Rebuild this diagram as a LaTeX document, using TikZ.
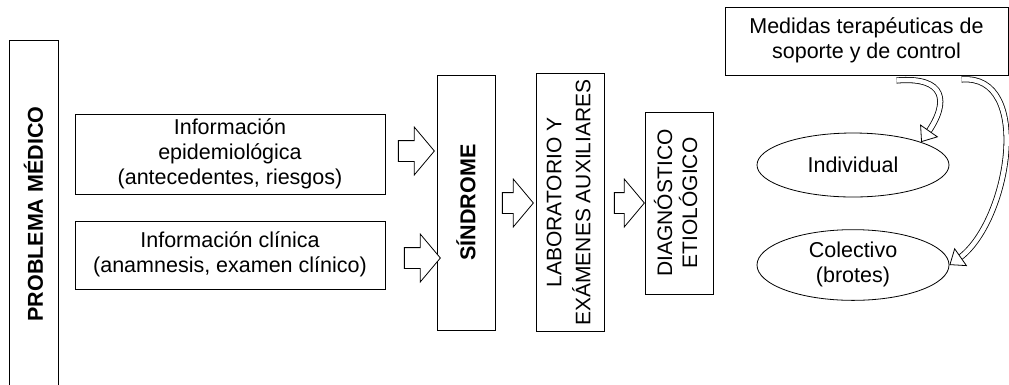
\documentclass[tikz,border=0pt]{standalone}
\usepackage{fontspec}
\setmainfont{Liberation Sans}
\usetikzlibrary{shapes.geometric,shapes.arrows,arrows.meta}

\tikzset{
	txt/.style={font=\fontsize{21.5}{25}\selectfont, inner sep=0pt, align=center},
	casilla/.style={txt, draw, line width=1pt},
	flecha/.style={single arrow, draw, line width=0.8pt, inner xsep=0pt, inner ysep=10pt,
		single arrow head extend=13.5pt, single arrow tip angle=100, fill=white},
	hueca/.style={double=white, double distance=4.5pt, line width=0.8pt, shorten >=11pt},
	punta/.style={white, line width=0.5pt,
		-{Triangle[open, color=black, fill=white, line width=0.8pt, length=14pt, width=22pt]}}
}

\begin{document}
\begin{tikzpicture}[x=1pt,y=1pt]
		\useasboundingbox (0,0) rectangle (1009,-384);
		
		\node[casilla, rotate=90, minimum width=348pt, minimum height=49pt] (prob) at (33.5,-214){\textbf{PROBLEMA MÉDICO}};
		
		\node[casilla, minimum width=310pt, minimum height=80pt] (epi) at (230,-154){\begin{tabular}{c}Información\\epidemiológica\\(antecedentes, riesgos)\end{tabular}};
		\node[casilla, minimum width=310pt, minimum height=68pt] (clin) at (230,-255){\begin{tabular}{c}Información clínica\\(anamnesis, examen clínico)\end{tabular}};
		
		\node[casilla, rotate=90, minimum width=255pt, minimum height=58pt] (sind) at (466,-202.5){\textbf{SÍNDROME}};
		\node[casilla, rotate=90, minimum width=255pt, minimum height=68pt, font=\fontsize{21}{29}\selectfont] (lab) at (570,-202.5){\begin{tabular}{c}LABORATORIO Y\\EXÁMENES AUXILIARES\end{tabular}};
		\node[casilla, rotate=90, minimum width=182pt, minimum height=68pt, font=\fontsize{21}{23}\selectfont] (diag) at (679,-203){\begin{tabular}{c}DIAGNÓSTICO\\ETIOLÓGICO\end{tabular}};
		
		\node[flecha, minimum height=36pt] (f1) at (412,-151){};
		\node[flecha, minimum height=36pt] (f2) at (418,-258){};
		\node[flecha, minimum height=31pt] (f3) at (513.5,-203){};
		\node[flecha, minimum height=30pt] (f4) at (625,-203){};
		
		\node[casilla, minimum width=283pt, minimum height=68pt] (med) at (866.5,-41){\begin{tabular}{c}Medidas terapéuticas de\\soporte y de control\end{tabular}};
		
		\node[txt, ellipse, draw, line width=0.8pt, minimum width=192pt, minimum height=64pt] (ind) at (853,-165){Individual};
		\node[txt, ellipse, draw, line width=0.8pt, minimum width=192pt, minimum height=66pt] (col) at (853,-265){\begin{tabular}{c}Colectivo\\(brotes)\end{tabular}};
		
		% flechas curvas huecas
		\coordinate (s1) at ([xshift=30pt,yshift=-5pt]med.south);
		\coordinate (s2) at ([xshift=95pt,yshift=-4pt]med.south);
		\draw[hueca] (s1) to[out=5,in=55,looseness=1.9] (ind.north east);
		\draw[punta] (s1) to[out=5,in=55,looseness=1.9] (ind.north east);
		\draw[hueca] (s2) to[out=5,in=35] (col.east);
		\draw[punta] (s2) to[out=5,in=35] (col.east);
		
\end{tikzpicture}
\end{document}
